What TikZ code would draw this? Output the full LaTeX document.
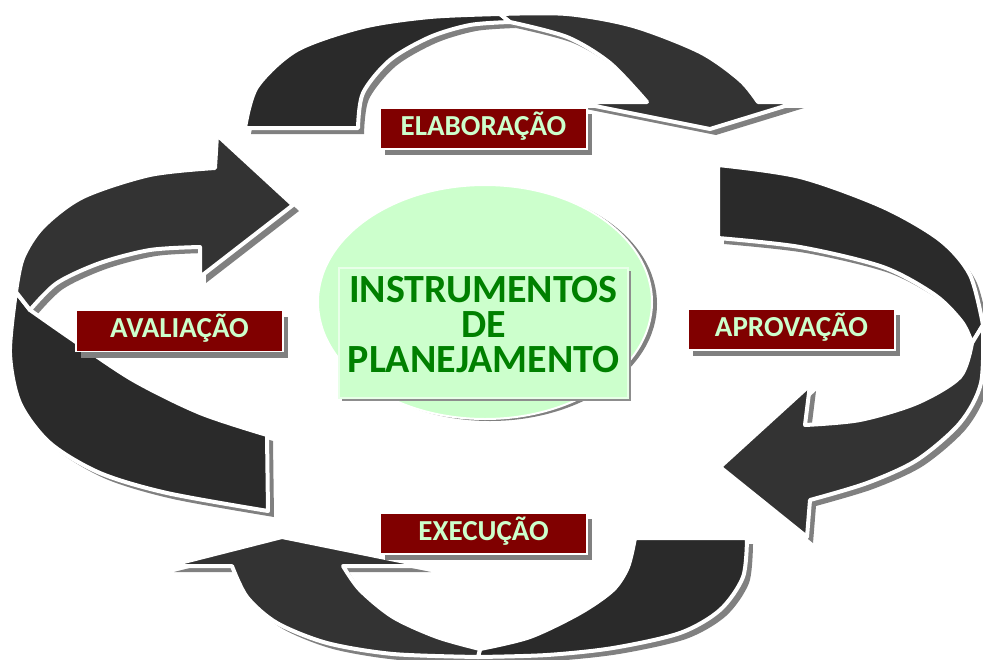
\documentclass[tikz,border=0pt]{standalone}
\usepackage{fontspec}
\setmainfont{Carlito}
\usetikzlibrary{shapes.geometric,shadows}
\definecolor{frontgray}{HTML}{333333}
\definecolor{backgray}{HTML}{2A2A2A}
\definecolor{shadowgray}{HTML}{808080}
\definecolor{maroonbox}{HTML}{800000}
\definecolor{palegreen}{HTML}{CCFFCC}
\definecolor{textgreen}{HTML}{008000}
\newcommand\twistarrow[2]{%
  \fill[shadowfill] #1;
  \fill[shadowfill] #2;
  \filldraw[backface] #1;
  \filldraw[frontface] #2;
}
\begin{document}
\begin{tikzpicture}[x=1pt,y=-1pt,
  shadowfill/.style={fill=shadowgray, shift={(6,6)}},
  backface/.style={fill=backgray, draw=white, line width=4, line join=round},
  frontface/.style={fill=frontgray, draw=white, line width=4, line join=round},
  labelbox/.style={fill=maroonbox, draw=white, line width=1.2, text=palegreen,
    font=\fontsize{29}{30}\selectfont\bfseries, minimum width=207, minimum height=41,
    inner sep=0, text height=18, text depth=5,
    drop shadow={opacity=1, fill=shadowgray, shadow xshift=5pt, shadow yshift=-6pt}},
  ctext/.style={text=textgreen, font=\fontsize{40}{35}\selectfont\bfseries, inner sep=0,
    align=center}
]
\useasboundingbox (0,0) rectangle (983,659);
\fill[white] (0,0) rectangle (983,659);

% top arrow (ELABORACAO)
\twistarrow{(245,128) -- (358,128) -- plot[smooth] coordinates {(358,128) (363,93) (390,60) (430,37) (470,25) (510,22)} -- (500,14) -- plot[smooth] coordinates {(500,14) (430,17) (363,27) (297,50) (257,87) (245,128)} -- cycle}
{(500,14) -- plot[smooth] coordinates {(500,14) (567,14) (633,26) (700,52) (740,80) (758,102)} -- (798,102) -- (710,129) -- (575,102) -- (647,102) -- plot[smooth] coordinates {(647,102) (610,63) (567,37) (510,22)} -- cycle}

% left arrow (AVALIACAO)
\twistarrow{(16,292) -- plot[smooth] coordinates {(16,292) (10,353) (20,403) (50,443) (100,473) (167,493) (268,511)} -- (267,435) -- plot[smooth] coordinates {(267,435) (200,413) (133,380) (73,340) (30,310)} -- cycle}
{(16,292) -- plot[smooth] coordinates {(16,292) (23,258) (43,227) (83,197) (150,175) (215,168)} -- (217,135) -- (293,205) -- (200,277) -- (200,247) -- plot[smooth] coordinates {(200,247) (150,250) (100,263) (57,283) (30,310)} -- cycle}

% right arrow (APROVACAO)
\twistarrow{(718,165) -- plot[smooth] coordinates {(718,165) (800,177) (883,207) (940,240) (970,275) (983,325)} -- (972,343) -- plot[smooth] coordinates {(972,343) (962,322) (935,295) (883,267) (800,247) (718,238)} -- cycle}
{(983,325) -- plot[smooth] coordinates {(983,325) (981,383) (960,423) (917,460) (867,483) (810,500)} -- (807,537) -- (720,467) -- (810,385) -- (805,425) -- plot[smooth] coordinates {(805,425) (860,420) (917,403) (960,377) (972,343)} -- cycle}

% bottom arrow (EXECUCAO)
\twistarrow{(635,538) -- (747,538) -- plot[smooth] coordinates {(747,538) (743,577) (720,610) (680,633) (613,648) (547,655) (478,657)} -- (480,649) -- plot[smooth] coordinates {(480,649) (530,637) (580,613) (613,590) (628,567) (635,538)} -- cycle}
{(478,657) -- plot[smooth] coordinates {(478,657) (393,654) (327,643) (277,623) (247,597) (232,566)} -- (168,566) -- (282,537) -- (425,566) -- (343,566) -- plot[smooth] coordinates {(343,566) (360,590) (393,617) (437,637) (480,649)} -- cycle}

% centre
\node[ellipse, fill=palegreen, draw=white, line width=2, minimum width=334, minimum height=234, inner sep=0,
  drop shadow={opacity=1, fill=shadowgray, shadow xshift=5pt, shadow yshift=-2pt}] (circ) at (485,302) {};
\node[rectangle, fill=palegreen, draw=white!55!palegreen, line width=1.2, minimum width=289, minimum height=130, inner sep=0,
  drop shadow={opacity=1, fill=shadowgray!90, shadow xshift=3pt, shadow yshift=-3pt}] (instr) at (483.5,333) {};
\node[ctext] (title) at (483.5,325) {INSTRUMENTOS\\DE\\PLANEJAMENTO};

% labels
\node[labelbox] (elab) at (483.5,128.5) {ELABORAÇÃO};
\node[labelbox] (aval) at (179.5,331) {AVALIAÇÃO};
\node[labelbox] (aprov) at (791.5,329.5) {APROVAÇÃO};
\node[labelbox] (exec) at (483.5,533.5) {EXECUÇÃO};
\end{tikzpicture}
\end{document}
